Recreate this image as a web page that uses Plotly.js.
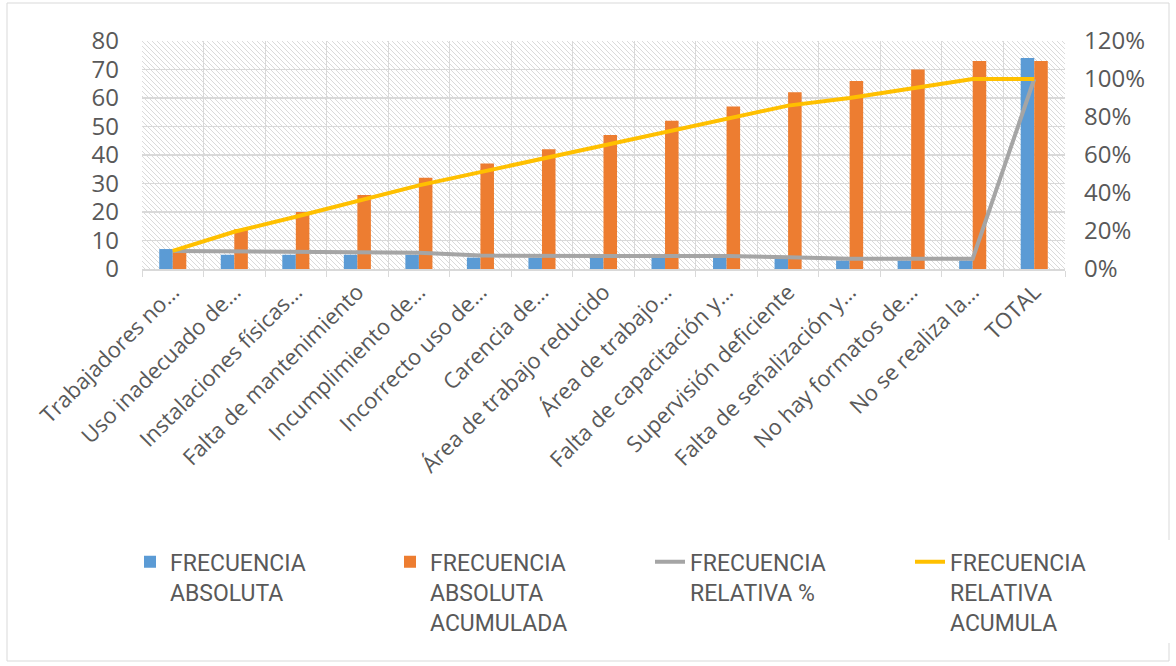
<!DOCTYPE html>
<html>
<head>
<meta charset="utf-8">
<script src="https://cdn.plot.ly/plotly-3.0.1.min.js"></script>
<style>
  html, body { margin: 0; padding: 0; background: #ffffff; }
  #chart { width: 1176px; height: 666px; }
</style>
</head>
<body>
<div id="chart"></div>
<script>
const categories = [
  "Trabajadores no…",
  "Uso inadecuado de…",
  "Instalaciones físicas…",
  "Falta de mantenimiento",
  "Incumplimiento de…",
  "Incorrecto uso de…",
  "Carencia de…",
  "Área de trabajo reducido",
  "Área de trabajo…",
  "Falta de capacitación y…",
  "Supervisión deficiente",
  "Falta de señalización y…",
  "No hay formatos de…",
  "No se realiza la…",
  "TOTAL"
];
const frecuenciaAbsoluta = [7, 5, 5, 5, 5, 4, 4, 4, 4, 4, 4, 3, 3, 3, 74];
const frecuenciaAbsolutaAcumulada = [7, 14, 20, 26, 32, 37, 42, 47, 52, 57, 62, 66, 70, 73, 73];
const frecuenciaRelativa = [0.095, 0.093, 0.088, 0.086, 0.086, 0.071, 0.068, 0.068, 0.068, 0.068, 0.062, 0.054, 0.054, 0.054, 1.0];
const frecuenciaRelativaAcumulada = [0.095, 0.196, 0.275, 0.36, 0.44, 0.51, 0.58, 0.65, 0.72, 0.79, 0.86, 0.90, 0.95, 1.0, 1.0];

const seriesNames = [
  "FRECUENCIA<br>ABSOLUTA",
  "FRECUENCIA<br>ABSOLUTA<br>ACUMULADA",
  "FRECUENCIA<br>RELATIVA %",
  "FRECUENCIA<br>RELATIVA<br>ACUMULA"
];

const textColor = "#595959";
const gridColor = "#d9d9d9";

const hatchSvg =
  "<svg xmlns='http://www.w3.org/2000/svg' width='923' height='228'>" +
  "<defs><pattern id='p' width='5' height='5' patternUnits='userSpaceOnUse'>" +
  "<path d='M0,0 L5,5 M-1,4 L1,6 M4,-1 L6,1' stroke='#dadada' stroke-width='1'/>" +
  "</pattern></defs><rect width='100%' height='100%' fill='url(#p)'/></svg>";

const traces = [
  {
    type: "bar", name: seriesNames[0], x: categories, y: frecuenciaAbsoluta,
    marker: { color: "#5b9bd5" }, yaxis: "y"
  },
  {
    type: "bar", name: seriesNames[1], x: categories, y: frecuenciaAbsolutaAcumulada,
    marker: { color: "#ed7d31" }, yaxis: "y"
  },
  {
    type: "scatter", mode: "lines", name: seriesNames[2], x: categories, y: frecuenciaRelativa,
    line: { color: "#a5a5a5", width: 4 }, yaxis: "y2"
  },
  {
    type: "scatter", mode: "lines", name: seriesNames[3], x: categories, y: frecuenciaRelativaAcumulada,
    line: { color: "#ffc000", width: 4 }, yaxis: "y2"
  }
];

const layout = {
  width: 1176, height: 666,
  paper_bgcolor: "#ffffff", plot_bgcolor: "rgba(0,0,0,0)",
  margin: { l: 142, r: 111, t: 41, b: 397, autoexpand: false },
  barmode: "group", bargap: 0.56, bargroupgap: 0,
  font: { family: "Open Sans, sans-serif", color: textColor },
  showlegend: true,
  xaxis: {
    type: "category", tickson: "boundaries", showgrid: true, gridcolor: gridColor, gridwidth: 1,
    showline: true, linecolor: gridColor, linewidth: 1.5,
    ticks: "outside", ticklen: 6, tickcolor: gridColor,
    tickangle: -45, tickfont: { size: 22, color: textColor, family: "Open Sans, sans-serif" },
    automargin: false, fixedrange: true
  },
  yaxis: {
    range: [0, 80], dtick: 10, showgrid: true, gridcolor: gridColor, gridwidth: 1.5,
    zeroline: false, showline: false, ticks: "", automargin: false,
    tickfont: { size: 24, color: textColor }, ticklabelstandoff: 22
  },
  yaxis2: {
    overlaying: "y", side: "right", range: [0, 1.2], dtick: 0.2, tickformat: ".0%",
    showgrid: false, zeroline: false, showline: false, ticks: "", automargin: false,
    tickfont: { size: 24, color: textColor }, ticklabelstandoff: 18
  },
  legend: {
    orientation: "h", x: -0.013, xanchor: "left", y: -1.19, yanchor: "top",
    valign: "top", entrywidth: 215, entrywidthmode: "pixels",
    font: { family: "Roboto, sans-serif", size: 23, color: textColor },
    traceorder: "normal"
  },
  images: [{
    source: "data:image/svg+xml;charset=utf-8," + encodeURIComponent(hatchSvg),
    xref: "paper", yref: "paper", x: 0, y: 1, sizex: 1, sizey: 1,
    xanchor: "left", yanchor: "top", sizing: "stretch", layer: "below"
  }],
  shapes: [{
    type: "rect", xref: "paper", yref: "paper",
    x0: (7 - 142) / 923, x1: (1169 - 142) / 923,
    y0: (269 - 661) / 228, y1: (269 - 3) / 228,
    line: { color: gridColor, width: 1 }, layer: "below"
  }]
};

Plotly.newPlot("chart", traces, layout, { displayModeBar: false, staticPlot: true });
</script>
</body>
</html>
